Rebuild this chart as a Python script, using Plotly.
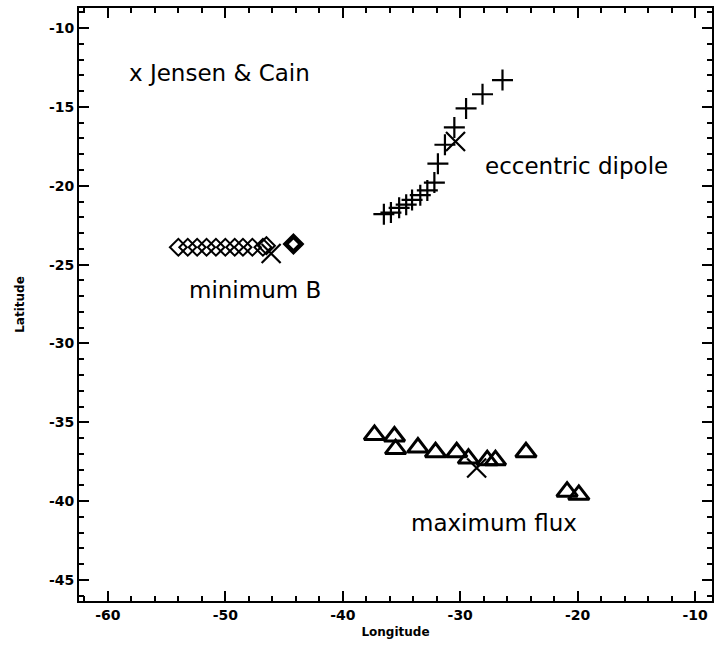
import plotly.graph_objects as go

# Eccentric dipole (plus markers)
dip_lon = [-26.4, -28.1, -29.5, -30.5, -31.3, -31.9, -32.2, -32.8, -33.4, -34.1, -34.6, -35.2, -35.9, -36.5]
dip_lat = [-13.3, -14.2, -15.1, -16.3, -17.4, -18.6, -19.8, -20.3, -20.6, -20.9, -21.2, -21.4, -21.7, -21.8]

# Minimum B (open diamonds) and the bold diamond
minb_lon = [-54.0, -53.2, -52.4, -51.6, -50.8, -50.0, -49.2, -48.5, -47.7, -46.8, -46.5]
minb_lat = [-23.9, -23.9, -23.9, -23.9, -23.9, -23.9, -23.9, -23.9, -23.9, -23.9, -23.8]
minb_bold_lon = [-44.2]
minb_bold_lat = [-23.7]

# Maximum flux (open triangles)
flux_lon = [-37.3, -35.6, -35.5, -33.6, -32.1, -30.3, -29.3, -27.7, -27.0, -24.4, -20.9, -19.9]
flux_lat = [-35.8, -35.9, -36.7, -36.6, -36.9, -36.9, -37.3, -37.4, -37.4, -36.9, -39.4, -39.6]

# Jensen & Cain positions (x markers)
jc_lon = [-46.1, -30.4, -28.6]
jc_lat = [-24.3, -17.2, -37.9]

# Labels
label_text = ["x Jensen & Cain", "eccentric dipole", "minimum B", "maximum flux"]
label_lon = [-58.4, -28.1, -53.3, -34.4]
label_lat = [-12.85, -18.75, -26.6, -41.4]

x_range = [-62.46, -8.56]
y_range = [-46.33, -8.73]

fig = go.Figure()

fig.add_trace(go.Scatter(
    x=minb_lon, y=minb_lat, mode="markers",
    marker=dict(symbol="diamond-open", size=13, color="black", line=dict(width=2, color="black")),
    showlegend=False, hoverinfo="skip"))
fig.add_trace(go.Scatter(
    x=minb_bold_lon, y=minb_bold_lat, mode="markers",
    marker=dict(symbol="diamond-open", size=12, color="black", line=dict(width=4.5, color="black")),
    showlegend=False, hoverinfo="skip"))
fig.add_trace(go.Scatter(
    x=dip_lon, y=dip_lat, mode="markers",
    marker=dict(symbol="cross-thin-open", size=15, color="black", line=dict(width=2.2, color="black")),
    showlegend=False, hoverinfo="skip"))
fig.add_trace(go.Scatter(
    x=flux_lon, y=flux_lat, mode="markers",
    marker=dict(symbol="triangle-up-open", size=18, color="black", line=dict(width=3, color="black")),
    showlegend=False, hoverinfo="skip"))
fig.add_trace(go.Scatter(
    x=jc_lon, y=jc_lat, mode="markers",
    marker=dict(symbol="x-thin-open", size=19, color="black", line=dict(width=2.2, color="black")),
    showlegend=False, hoverinfo="skip"))

for t, lx, ly in zip(label_text, label_lon, label_lat):
    fig.add_annotation(x=lx, y=ly, text=t, showarrow=False, xanchor="left", yanchor="middle",
                       font=dict(family="DejaVu Sans", size=23, color="black"))

axis_common = dict(
    showgrid=False, zeroline=False, showline=True, linecolor="black", linewidth=2,
    mirror="ticks", ticks="inside", tickcolor="black", tickwidth=2, ticklen=10,
    tickfont=dict(family="DejaVu Sans", size=14, color="black", weight="bold"),
)

fig.update_xaxes(range=x_range, tickvals=[-60, -50, -40, -30, -20, -10],
                 ticktext=["-60", "-50", "-40", "-30", "-20", "-10"],
                 minor=dict(dtick=2, tick0=-60, ticks="inside", ticklen=5, tickwidth=1.5, tickcolor="black"),
                 title=dict(text="Longitude", font=dict(family="DejaVu Sans", size=12, color="black", weight="bold"), standoff=6),
                 **axis_common)
fig.update_yaxes(range=y_range, tickvals=[-10, -15, -20, -25, -30, -35, -40, -45],
                 ticktext=["-10", "-15", "-20", "-25", "-30", "-35", "-40", "-45"],
                 minor=dict(dtick=1, tick0=-10, ticks="inside", ticklen=5, tickwidth=1.5, tickcolor="black"),
                 title=dict(text="Latitude", font=dict(family="DejaVu Sans", size=12, color="black", weight="bold"), standoff=22),
                 **axis_common)

fig.update_layout(
    width=716, height=646,
    margin=dict(l=79, r=2, t=8, b=45),
    paper_bgcolor="white", plot_bgcolor="white",
    showlegend=False,
)

fig.write_html("out.html")
